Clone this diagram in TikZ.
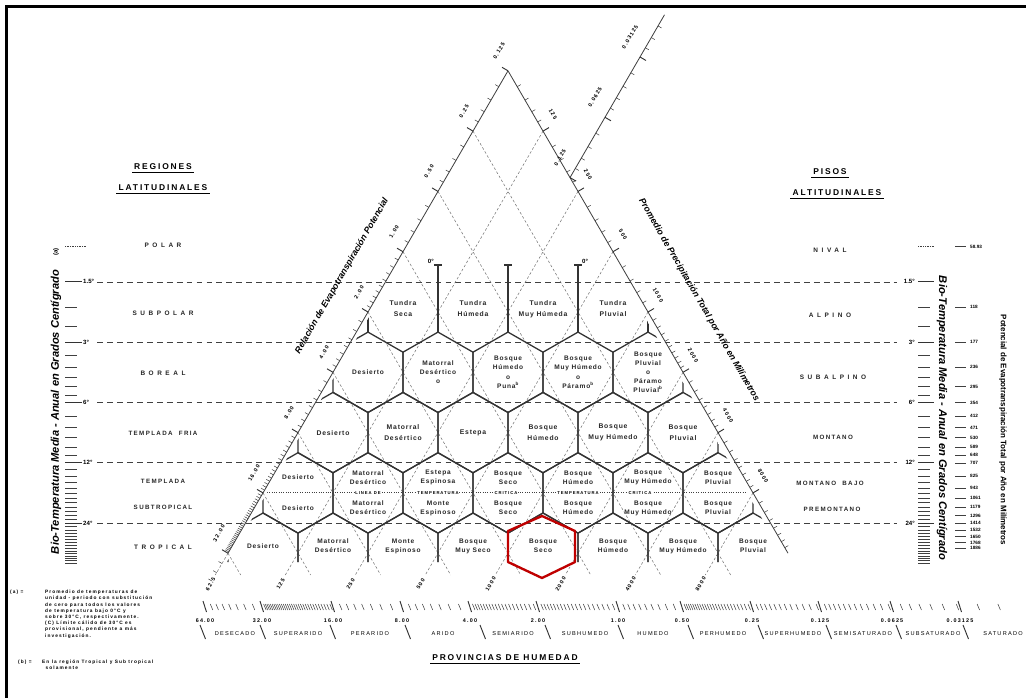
\documentclass[tikz,border=0pt]{standalone}
\usepackage{fontspec}
\setmainfont{Liberation Sans}
\newfontfamily\wideletters[LetterSpace=55]{Liberation Sans}
\newfontfamily\spacedletters[LetterSpace=22]{Liberation Sans}
\newfontfamily\zoneletters[LetterSpace=12]{Liberation Sans}
\usetikzlibrary{calc}

\tikzset{
  hexline/.style={line width=1.1pt, black!80},
  redhex/.style={line width=2pt, red!75!black, line join=round},
  guideline/.style={line width=0.45pt, black!55, dash pattern=on 2.2pt off 1.8pt},
  bandline/.style={line width=0.6pt, black!75, dash pattern=on 5pt off 3.5pt},
  frostline/.style={line width=0.8pt, black!75, dash pattern=on 0.8pt off 1.2pt},
  scaleline/.style={line width=0.7pt, black!75},
  tickmark/.style={line width=0.45pt, black!75},
  majortick/.style={line width=0.8pt, black!80},
  zonelbl/.style={font=\zoneletters\fontsize{5.8}{9.5}\selectfont\bfseries, align=center, inner sep=0pt, text=black!85},
  zonesmall/.style={zonelbl, font=\zoneletters\fontsize{5.6}{7.8}\selectfont\bfseries},
  widelbl/.style={font=\wideletters\fontsize{5.5}{6}\selectfont\bfseries, inner sep=0pt, text=black!85},
  bandlbl/.style={font=\spacedletters\fontsize{5.3}{6}\selectfont\bfseries, inner sep=0pt, text=black!85},
  titlelbl/.style={font=\spacedletters\fontsize{7.2}{8}\selectfont\bfseries, inner sep=0pt},
  degreelbl/.style={font=\fontsize{5.2}{5.5}\selectfont\bfseries, inner sep=0pt},
  numlbl/.style={font=\spacedletters\fontsize{4.6}{5}\selectfont\bfseries, inner sep=0pt},
  petlbl/.style={font=\fontsize{4}{4.2}\selectfont\bfseries, inner sep=0pt, anchor=west},
  provlbl/.style={font=\spacedletters\fontsize{4.8}{5}\selectfont, inner sep=0pt},
  axislbl/.style={font=\fontsize{9.5}{10}\selectfont\bfseries\itshape, inner sep=0pt},
  slantlbl/.style={font=\fontsize{7.6}{8}\selectfont\bfseries\itshape, inner sep=0pt},
  notelbl/.style={font=\spacedletters\fontsize{4.1}{5.3}\selectfont\bfseries, align=left, inner sep=0pt, anchor=north west},
}

\begin{document}
\begin{tikzpicture}[x=0.3mm, y=-0.3mm]
  \useasboundingbox (0,0) rectangle (1026,698);

  % parameters (pixel units, y downwards)
  \def\hw{35}      % half width of a hexagon
  \def\rh{60.3}    % height of one row of hexagons
  \def\apx{508}    % apex of the triangle
  \def\apy{70.8}

  % frame
  \draw[line width=3pt] (6.5,698) -- (6.5,6.5) -- (1026,6.5);

  % titles
  \node[titlelbl] (reg) at (163,167) {REGIONES};
  \node[titlelbl] (lat) at (163,188) {LATITUDINALES};
  \node[titlelbl] (pis) at (830,172) {PISOS};
  \node[titlelbl] (alt) at (837,193) {ALTITUDINALES};
  \foreach \n in {reg,lat,pis,alt}
    \draw[line width=0.6pt] ($(\n.south west)+(-2,2.5)$) -- ($(\n.south east)+(2,2.5)$);

  % belts of biotemperature
  \foreach \y/\t [count=\n] in {281.85/1.5, 342.15/3, 402.45/6, 462.75/12, 523.05/24}{
    \draw[bandline] (97,\y) -- (897,\y);
    \draw[majortick] (65,\y) -- (82,\y);
    \node[degreelbl, anchor=west] (degl\n) at (83,\y) {\t°};
    \draw[majortick] (918,\y) -- (934,\y);
    \node[degreelbl, anchor=east] (degr\n) at (915,\y) {\t°};
  }
  \foreach \T in {2,2.5,3.5,4,4.5,5,5.5,7,8,9,10,11,13,14,...,23,25,26,...,38}{
    \pgfmathsetmacro\yy{281.85+\rh*ln(\T/1.5)/ln(2)}
    \draw[tickmark] (65,\yy) -- (77,\yy);
    \draw[tickmark] (918,\yy) -- (930,\yy);
  }
  \draw[tickmark, densely dotted] (65,246.6) -- (86,246.6);
  \draw[tickmark, densely dotted] (918,246.6) -- (934,246.6);

  % potential evapotranspiration column
  \foreach \T/\pet [count=\n] in {1/58.93, 2/118, 3/177, 4/236, 5/295, 6/354, 7/412, 8/471, 9/530, 10/589, 11/648, 12/707, 14/825, 16/943, 18/1061, 20/1179, 22/1296, 24/1414, 26/1532, 28/1650, 30/1768, 32/1886}{
    \pgfmathsetmacro\yy{281.85+\rh*ln(\T/1.5)/ln(2)}
    \draw[tickmark] (955,\yy) -- (966,\yy);
    \node[petlbl] (pet\n) at (970,\yy) {\pet};
  }

  % axis names
  \node[axislbl, rotate=90] (biol) at (56,412) {Bio-Temperatura Media - Anual en Grados Centígrado};
  \node[degreelbl, rotate=90] (biolnote) at (56,252) {(a)};
  \node[axislbl, rotate=-90] (bior) at (942,418) {Bio-Temperatura Media - Anual en Grados Centígrado};
  \node[font=\fontsize{6.8}{7}\selectfont\bfseries, inner sep=0pt, rotate=-90] (petname) at (1003,430) {Potencial de Evapotranspiración Total por Año en Milímetros};

  % latitudinal regions
  \node[widelbl] (polar) at (163,245) {POLAR};
  \node[widelbl] (subpolar) at (163,313) {SUBPOLAR};
  \node[widelbl] (boreal) at (163,373) {BOREAL};
  \node[bandlbl] (tfria) at (163,433) {TEMPLADA\quad FRIA};
  \node[bandlbl] (templada) at (163,481) {TEMPLADA};
  \node[bandlbl] (subtrop) at (163,507) {SUBTROPICAL};
  \node[widelbl] (tropical) at (163,547) {TROPICAL};

  % altitudinal belts
  \node[widelbl] (nival) at (830,250) {NIVAL};
  \node[widelbl] (alpino) at (830,315) {ALPINO};
  \node[widelbl] (subalpino) at (833,377) {SUBALPINO};
  \node[bandlbl] (montano) at (833,437) {MONTANO};
  \node[bandlbl] (mbajo) at (830,483) {MONTANO\quad BAJO};
  \node[bandlbl] (premontano) at (832,509) {PREMONTANO};

  % guide lines of the triangle
  \foreach \s in {1,...,8}
    \draw[guideline] (\apx-\hw*\s,\apy+\rh*\s) -- (800.7-70*\s,575);
  \foreach \k in {1,...,7}
    \draw[guideline] (\apx+\hw*\k,\apy+\rh*\k) -- (215.3+70*\k,575);
  \draw[guideline] (228,553.2) -- (215.3,575);

  % hexagons
  \begin{scope}
    \clip (507,79.4) -- (226.9,562) -- (787.1,562) -- cycle;
    \foreach \r/\n in {1/5,2/6,3/7,4/8}{
      \foreach \i in {1,...,\n}{
        \pgfmathsetmacro\cx{403-\hw*\r+70*(\i-1)}
        \pgfmathsetmacro\cy{312+\rh*\r}
        \draw[hexline] (\cx,\cy-40.2) -- ++(35,20.1) -- ++(0,40.2) -- ++(-35,20.1)
          -- ++(-35,-20.1) -- ++(0,-40.2) -- cycle;
      }
    }
    \foreach \x in {368,438,...,648} \draw[hexline] (\x,291.9) -- (\x,332.1);
    \draw[frostline] (260,492.9) -- (760,492.9);
  \end{scope}
  \foreach \x in {438,508,578}{
    \draw[hexline] (\x,265) -- (\x,291.9);
    \draw[hexline] (\x-4,265) -- (\x+4,265);
  }
  \node[degreelbl, anchor=east] (zerol) at (434,261) {0°};
  \node[degreelbl, anchor=west] (zeror) at (582,261) {0°};

  % critical temperature line
  \foreach \w/\x [count=\n] in {LINEA DE/368, TEMPERATURA/438, CRITICA/506, TEMPERATURA/578, CRITICA/640}
    \node[font=\spacedletters\fontsize{3.6}{4}\selectfont\bfseries, fill=white, inner sep=0.6pt] (crit\n) at (\x,492.9) {\w};

  % left scale
  \draw[scaleline] (\apx,\apy) -- (228,553.2);
  \foreach \va/\d/\n in {48/4/3, 32/0.5/31, 16/0.5/15, 8/0.5/7, 4/0.25/7, 2/0.1/9, 1/0.1/4, 0.5/0.05/4, 0.25/0.025/4}{
    \foreach \i in {1,...,\n}{
      \pgfmathsetmacro\ss{ln(8*(\va-\i*\d))/ln(2)}
      \draw[tickmark] (\apx-\hw*\ss,\apy+\rh*\ss) -- ++(-3.5,-2);
    }
  }
  \foreach \lbl [count=\i from 0] in {0.125,0.25,0.50,1.00,2.00,4.00,8.00,16.00,32.00}{
    \draw[majortick] (\apx-\hw*\i,\apy+\rh*\i) -- ++(-6,-3.5);
    \node[numlbl, rotate=60] (rl\i) at (\apx-\hw*\i-9,\apy+\rh*\i-20) {\lbl};
  }
  \node[slantlbl, rotate=60] (relname) at (342,276) {Relación de Evapotranspiración Potencial};

  % right scale
  \draw[scaleline] (\apx,\apy) -- (788,553.2);
  \foreach \va/\d/\n in {62.5/12.5/4, 125/25/4, 250/50/4, 500/100/4, 1000/100/9, 2000/250/7, 4000/500/7, 8000/1000/7}{
    \foreach \i in {1,...,\n}{
      \pgfmathsetmacro\ss{ln((\va+\i*\d)/62.5)/ln(2)}
      \draw[tickmark] (\apx+\hw*\ss,\apy+\rh*\ss) -- ++(3.5,-2);
    }
  }
  \foreach \lbl [count=\i] in {125,250,500,1000,2000,4000,8000}{
    \draw[majortick] (\apx+\hw*\i,\apy+\rh*\i) -- ++(6,-3.5);
    \node[numlbl, rotate=-60] (pr\i) at (\apx+\hw*\i+10,\apy+\rh*\i-17) {\lbl};
  }
  \node[slantlbl, rotate=-60] (precname) at (699,300) {Promedio de Precipitación Total por Año en Milímetros};

  % upper scale for small ratios
  \draw[scaleline] (570,177.6) -- (664.5,14.8);
  \foreach \va/\d/\n in {0.125/0.0125/4, 0.0625/0.00625/4, 0.03125/0.003125/3}{
    \foreach \i in {1,...,\n}{
      \pgfmathsetmacro\uu{ln(0.125/(\va-\i*\d))/ln(2)}
      \draw[tickmark] (570+\hw*\uu,177.6-\rh*\uu) -- ++(3.5,2);
    }
  }
  \foreach \lbl [count=\i from 0] in {0.125,0.0625,0.03125}{
    \draw[majortick] (570+\hw*\i,177.6-\rh*\i) -- ++(6,3.5);
    \node[numlbl, rotate=60] (ru\i) at (560+\hw*\i,157.6-\rh*\i) {\lbl};
  }

  % precipitation at the foot of the triangle
  \foreach \lbl [count=\k from 0] in {62.5,125,250,500,1000,2000,4000,8000}
    \node[numlbl, rotate=60] (pb\k) at (210.6+70*\k,584) {\lbl};

  % zone names
  \foreach \txt [count=\i from 0] in {{Tundra\\Seca},{Tundra\\Húmeda},{Tundra\\Muy Húmeda},{Tundra\\Pluvial}}
    \node[zonelbl] (za\i) at (403+70*\i,309) {\txt};
  \foreach \txt [count=\i from 0] in {{Desierto},{Matorral\\Desértico\\o},{Bosque\\Húmedo\\o\\Puna\textsuperscript{b}},{Bosque\\Muy Húmedo\\o\\Páramo\textsuperscript{b}},{Bosque\\Pluvial\\o\\Páramo\\Pluvial\textsuperscript{b}}}
    \node[zonesmall] (zb\i) at (368+70*\i,372.3) {\txt};
  \foreach \txt [count=\i from 0] in {{Desierto},{Matorral\\Desértico},{Estepa},{Bosque\\Húmedo},{Bosque\\Muy Húmedo},{Bosque\\Pluvial}}
    \node[zonelbl] (zc\i) at (333+70*\i,432.6) {\txt};
  \foreach \txt [count=\i from 0] in {{Desierto},{Matorral\\Desértico},{Estepa\\Espinosa},{Bosque\\Seco},{Bosque\\Húmedo},{Bosque\\Muy Húmedo},{Bosque\\Pluvial}}
    \node[zonesmall] (zd\i) at (298+70*\i,477.5) {\txt};
  \foreach \txt [count=\i from 0] in {{Desierto},{Matorral\\Desértico},{Monte\\Espinoso},{Bosque\\Seco},{Bosque\\Húmedo},{Bosque\\Muy Húmedo},{Bosque\\Pluvial}}
    \node[zonesmall] (ze\i) at (298+70*\i,508) {\txt};
  \foreach \txt [count=\i from 0] in {{Desierto},{Matorral\\Desértico},{Monte\\Espinoso},{Bosque\\Muy Seco},{Bosque\\Seco},{Bosque\\Húmedo},{Bosque\\Muy Húmedo},{Bosque\\Pluvial}}
    \node[zonesmall] (zf\i) at (263+70*\i,546) {\txt};

  % marked zone
  \draw[redhex] (542,516) -- (575,531) -- (575,562) -- (542,578) -- (508,562) -- (508,531) -- cycle;

  % humidity scale
  \def\octaves{205/262/64/4/7, 262/333/32/0.5/31, 333/402/16/1/7, 402/470/8/0.5/7, 470/538/4/0.1/19, 538/618/2/0.05/19, 618/682/1/0.05/9, 682/752/0.5/0.01/24, 752/820/0.25/0.01/12, 820/892/0.125/0.005/12, 892/960/0.0625/0.005/6, 960/1028/0.03125/0.005/2}
  \foreach \xa/\xb/\va/\d/\n in \octaves{
    \foreach \i in {1,...,\n}{
      \pgfmathsetmacro\xx{\xa+(\xb-\xa)*ln(\va/(\va-\i*\d))/ln(2)}
      \draw[tickmark] (\xx,604) -- ++(2.5,6);
    }
  }
  \foreach \xx/\sx/\lbl [count=\j] in {205/200/64.00, 262/260/32.00, 333/330/16.00, 402/405/8.00, 470/480/4.00, 538/545/2.00, 618/618/1.00, 682/688/0.50, 752/758/0.25, 820/826/0.125, 892/896/0.0625, 960/963/0.03125}{
    \draw[majortick] (\xx-2,601) -- ++(3.5,11);
    \node[numlbl] (hl\j) at (\xx,621) {\lbl};
    \draw[majortick] (\sx,625) -- ++(5.5,14);
  }
  \foreach \xx/\lbl [count=\j] in {235/DESECADO, 298/SUPERARIDO, 370/PERARIDO, 443/ARIDO, 513/SEMIARIDO, 585/SUBHUMEDO, 653/HUMEDO, 723/PERHUMEDO, 793/SUPERHUMEDO, 863/SEMISATURADO, 933/SUBSATURADO, 1003/SATURADO}
    \node[provlbl] (prov\j) at (\xx,634) {\lbl};
  \node[titlelbl] (provname) at (505,658) {PROVINCIAS\enspace DE\enspace HUMEDAD};
  \draw[line width=0.6pt] ($(provname.south west)+(-2,2.5)$) -- ($(provname.south east)+(2,2.5)$);

  % notes
  \node[notelbl] (notea) at (10,590) {(a)\enspace =};
  \node[notelbl] (noteatext) at (45,590) {Promedio de temperaturas de\\unidad - periodo con substitución\\de cero para todos los valores\\de temperatura bajo 0°C y\\sobre 30°C, respectivamente.\\(C) Límite cálido de 30°C es\\provisional, pendiente a más\\investigación.};
  \node[notelbl] (noteb) at (18,660) {(b)\enspace =};
  \node[notelbl] (notebtext) at (42,660) {En la región Tropical y Sub tropical\\\hspace*{3pt}solamente};
\end{tikzpicture}
\end{document}
